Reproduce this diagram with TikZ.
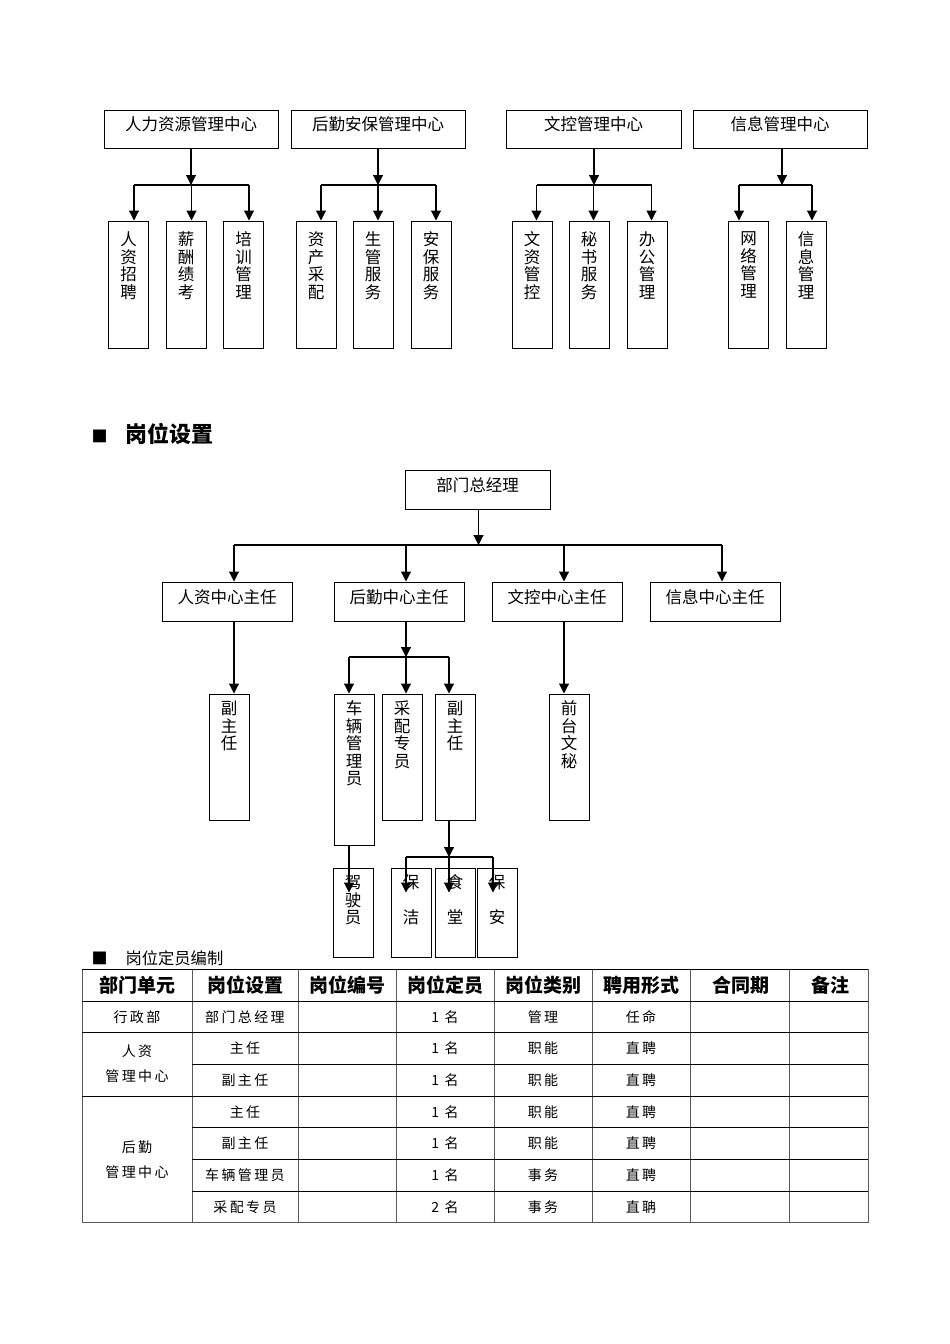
\documentclass[tikz,border=0pt]{standalone}
\usepackage{fontspec}
\setmainfont{Noto Sans CJK SC}
\newfontfamily\tabfont[LetterSpace=17]{Noto Sans CJK SC}
\usetikzlibrary{arrows.meta}
\newcommand{\boxfont}{\fontsize{16.5pt}{17.5pt}\selectfont}
\newcommand{\headfont}{\fontsize{19pt}{19pt}\selectfont\bfseries}
\newcommand{\cellfont}{\tabfont\fontsize{14pt}{25pt}\selectfont}

\begin{document}
\begin{tikzpicture}[x=1pt,y=-1pt,line width=1pt,
  >={Triangle[length=10pt,width=10pt]},
  hbox/.style={draw,font=\boxfont,minimum height=38pt,text height=13pt,text depth=10pt,inner sep=2pt},
  vbox/.style={draw,minimum width=40pt,inner sep=0pt},
  vlab/.style={anchor=north,align=center,font=\boxfont,inner sep=0pt,yshift=-11pt},
  vlab2/.style={vlab,yshift=4pt},
  conn/.style={line width=1.1pt},
  head/.style={font=\headfont,inner sep=0pt},
  cell/.style={font=\cellfont,inner sep=0pt,align=center}]
\useasboundingbox (0,0) rectangle (950,1344);

\node[hbox,minimum width=174pt] (rlzy) at (191,129) {人力资源管理中心};
\node[hbox,minimum width=174pt] (hqab) at (378,129) {后勤安保管理中心};
\node[hbox,minimum width=175pt] (wkgl) at (593.5,129) {文控管理中心};
\node[hbox,minimum width=174pt] (xxgl) at (780,129) {信息管理中心};

\node[vbox,minimum height=127pt,label={[vlab]north:人\\资\\招\\聘}] (rzzp) at (128.5,284.5) {};
\node[vbox,minimum height=127pt,label={[vlab]north:薪\\酬\\绩\\考}] (xcjk) at (186,284.5) {};
\node[vbox,minimum height=127pt,label={[vlab]north:培\\训\\管\\理}] (pxgl) at (243.5,284.5) {};
\node[vbox,minimum height=127pt,label={[vlab]north:资\\产\\采\\配}] (zccp) at (316,284.5) {};
\node[vbox,minimum height=127pt,label={[vlab]north:生\\管\\服\\务}] (sgfw) at (373,284.5) {};
\node[vbox,minimum height=127pt,label={[vlab]north:安\\保\\服\\务}] (abfw) at (431,284.5) {};
\node[vbox,minimum height=127pt,label={[vlab]north:文\\资\\管\\控}] (wzgk) at (532,284.5) {};
\node[vbox,minimum height=127pt,label={[vlab]north:秘\\书\\服\\务}] (msfw) at (589,284.5) {};
\node[vbox,minimum height=127pt,label={[vlab]north:办\\公\\管\\理}] (bggl) at (647,284.5) {};
\node[vbox,minimum height=127pt,label={[vlab]north:网\\络\\管\\理}] (wlgl) at (748.5,284.5) {};
\node[vbox,minimum height=127pt,label={[vlab]north:信\\息\\管\\理}] (xxgl2) at (806,284.5) {};

\coordinate (b1) at (191,185);
\coordinate (b2) at (378,185);
\coordinate (b3) at (594,185);
\coordinate (b4) at (782,185);
\draw[conn,->] (rlzy) -- (b1);
\draw[conn,->] (hqab) -- (b2);
\draw[conn,->] ([xshift=0.5pt]wkgl.south) -- (b3);
\draw[conn,->] ([xshift=2pt]xxgl.south) -- (b4);
\draw[conn] ([xshift=5.5pt]rzzp.north |- b1) -- ([xshift=5.5pt]pxgl.north |- b1);
\draw[conn] ([xshift=5pt]zccp.north |- b2) -- ([xshift=5pt]abfw.north |- b2);
\draw[conn] ([xshift=4.5pt]wzgk.north |- b3) -- ([xshift=4.5pt]bggl.north |- b3);
\draw[conn] ([xshift=-9.5pt]wlgl.north |- b4) -- ([xshift=6pt]xxgl2.north |- b4);
\foreach \n in {rzzp,xcjk,pxgl}
  \draw[conn,->] ([xshift=5.5pt]\n.north |- b1) -- ([xshift=5.5pt]\n.north);
\foreach \n in {zccp,sgfw,abfw}
  \draw[conn,->] ([xshift=5pt]\n.north |- b2) -- ([xshift=5pt]\n.north);
\foreach \n in {wzgk,msfw,bggl}
  \draw[conn,->] ([xshift=4.5pt]\n.north |- b3) -- ([xshift=4.5pt]\n.north);
\draw[conn,->] ([xshift=-9.5pt]wlgl.north |- b4) -- ([xshift=-9.5pt]wlgl.north);
\draw[conn,->] ([xshift=6pt]xxgl2.north |- b4) -- ([xshift=6pt]xxgl2.north);

\node[anchor=west,inner sep=0pt,font=\fontsize{22pt}{22pt}\selectfont\bfseries] (gwsz) at (91,434)
  {{\fontsize{16pt}{16pt}\selectfont ■}\hspace{18pt}岗位设置};

\node[hbox,minimum width=145pt,minimum height=39pt] (bmzjl) at (477.5,489.5) {部门总经理};
\node[hbox,minimum width=130pt,minimum height=39pt] (rzzr) at (227,601.5) {人资中心主任};
\node[hbox,minimum width=130pt,minimum height=39pt] (hqzr) at (399,601.5) {后勤中心主任};
\node[hbox,minimum width=130pt,minimum height=39pt] (wkzr) at (557,601.5) {文控中心主任};
\node[hbox,minimum width=130pt,minimum height=39pt] (xxzr) at (715,601.5) {信息中心主任};
\coordinate (c0) at (478.5,545);
\draw[conn,->] ([xshift=1pt]bmzjl.south) -- (c0);
\draw[conn] ([xshift=7pt]rzzr.north |- c0) -- ([xshift=7pt]xxzr.north |- c0);
\foreach \n in {rzzr,hqzr,wkzr,xxzr}
  \draw[conn,->] ([xshift=7pt]\n.north |- c0) -- ([xshift=7pt]\n.north);

\node[vbox,minimum height=126pt,label={[vlab2]north:副\\主\\任}] (fzr1) at (229,757) {};
\node[vbox,minimum height=151pt,label={[vlab2]north:车\\辆\\管\\理\\员}] (clgl) at (354,769.5) {};
\node[vbox,minimum height=126pt,label={[vlab2]north:采\\配\\专\\员}] (cpzy) at (402,757) {};
\node[vbox,minimum height=126pt,label={[vlab2]north:副\\主\\任}] (fzr2) at (455,757) {};
\node[vbox,minimum height=126pt,label={[vlab2]north:前\\台\\文\\秘}] (qtws) at (569,757) {};
\draw[conn,->] ([xshift=7pt]rzzr.south) -- ([xshift=5pt]fzr1.north);
\draw[conn,->] ([xshift=7pt]wkzr.south) -- ([xshift=-5pt]qtws.north);
\coordinate (c1) at (406,657);
\draw[conn,->] ([xshift=7pt]hqzr.south) -- (c1);
\draw[conn] ([xshift=-5pt]clgl.north |- c1) -- ([xshift=-6pt]fzr2.north |- c1);
\draw[conn,->] ([xshift=-5pt]clgl.north |- c1) -- ([xshift=-5pt]clgl.north);
\draw[conn,->] ([xshift=4pt]cpzy.north |- c1) -- ([xshift=4pt]cpzy.north);
\draw[conn,->] ([xshift=-6pt]fzr2.north |- c1) -- ([xshift=-6pt]fzr2.north);

\node[vbox,minimum height=89pt,label={[vlab2]north:驾\\驶\\员}] (jsy) at (353,912.5) {};
\node[vbox,minimum height=89pt,label={[vlab2]north:{保\\[17pt]洁}}] (bj) at (411,912.5) {};
\node[vbox,minimum height=89pt,label={[vlab2]north:{食\\[17pt]堂}}] (st) at (455,912.5) {};
\node[vbox,minimum height=89pt,label={[vlab2]north:{保\\[17pt]安}}] (ba) at (497,912.5) {};
\coordinate (c2) at (449,857);
\draw[conn,->] ([xshift=-6pt]fzr2.south) -- (c2);
\draw[conn] ([xshift=-5pt]bj.north |- c2) -- ([xshift=-4pt]ba.north |- c2);
\draw[conn,->] ([xshift=-5pt]bj.north |- c2) -- ([xshift=-5pt,yshift=-25pt]bj.north);
\draw[conn,->] ([xshift=-6pt]st.north |- c2) -- ([xshift=-6pt,yshift=-25pt]st.north);
\draw[conn,->] ([xshift=-4pt]ba.north |- c2) -- ([xshift=-4pt,yshift=-25pt]ba.north);
\draw[conn,->] ([xshift=-5pt]clgl.south) -- ([xshift=-4pt,yshift=-25pt]jsy.north);

\node[anchor=west,inner sep=0pt,font=\fontsize{16.3pt}{17pt}\selectfont] (gwdy) at (91,958)
  {{\fontsize{16pt}{16pt}\selectfont ■}\hspace{18pt}岗位定员编制};

\foreach \x in {82,192,298,396,494,592,690,789,868}
  \draw[black!65] (\x,969) -- (\x,1222.5);
\foreach \y in {969,1001,1032.5,1096}
  \draw (82,\y) -- (868,\y);
\draw[black!65] (82,1222.5) -- (868,1222.5);
\foreach \y in {1064,1127.5,1159,1191}
  \draw (192,\y) -- (868,\y);

\foreach \t/\x [count=\i] in {部门单元/137,岗位设置/245,岗位编号/347,岗位定员/445,岗位类别/543,聘用形式/641,合同期/741,备注/830}
  \node[head] (h\i) at (\x,985) {\t};

\node[cell] (xzb) at (137,1016.75) {行政部};
\node[cell] (rzzx) at (137,1064) {人资\\管理中心};
\node[cell] (hqzx) at (137,1159.25) {后勤\\管理中心};
\foreach \a/\b/\c/\d/\y [count=\i] in {部门总经理/1 名/管理/任命/1016.75,
    主任/1 名/职能/直聘/1048.25, 副主任/1 名/职能/直聘/1080,
    主任/1 名/职能/直聘/1111.75, 副主任/1 名/职能/直聘/1143.25,
    车辆管理员/1 名/事务/直聘/1175, 采配专员/2 名/事务/直聃/1206.75}
{
  \node[cell] (p\i) at (245,\y) {\a};
  \node[cell] (n\i) at (445,\y) {\b};
  \node[cell] (k\i) at (543,\y) {\c};
  \node[cell] (f\i) at (641,\y) {\d};
}
\end{tikzpicture}
\end{document}
